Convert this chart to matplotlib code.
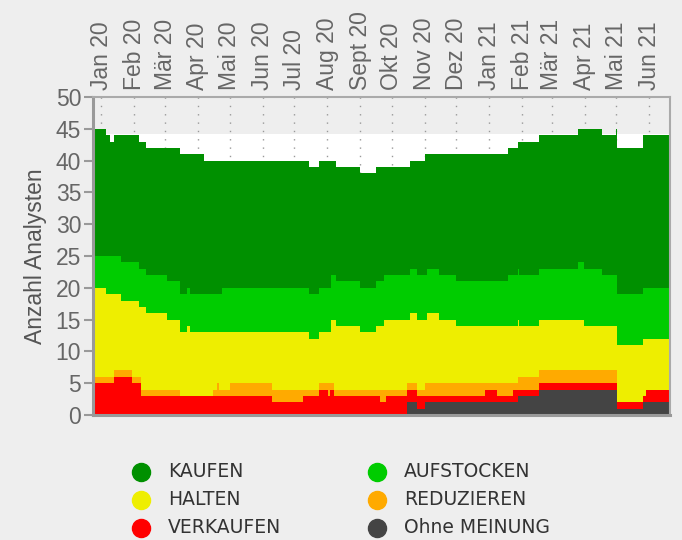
import matplotlib
matplotlib.use("Agg")
import matplotlib.pyplot as plt
import numpy as np
from matplotlib.lines import Line2D

plt.rcParams['font.family'] = ['Liberation Sans', 'DejaVu Sans']

# ---------------- data ----------------
change_dates = [
    "2019-12-24", "2020-01-05", "2020-01-09", "2020-01-13", "2020-01-19", "2020-01-30",
    "2020-02-05", "2020-02-07", "2020-02-12", "2020-03-03", "2020-03-15", "2020-03-22",
    "2020-03-25", "2020-04-07", "2020-04-15", "2020-04-19", "2020-04-21", "2020-04-24",
    "2020-05-01", "2020-06-10", "2020-07-09", "2020-07-15", "2020-07-24", "2020-08-02",
    "2020-08-04", "2020-08-05", "2020-08-07", "2020-08-09", "2020-09-01", "2020-09-16",
    "2020-09-20", "2020-09-24", "2020-09-26", "2020-10-15", "2020-10-18", "2020-10-25",
    "2020-11-01", "2020-11-03", "2020-11-15", "2020-12-01", "2020-12-28", "2021-01-08",
    "2021-01-19", "2021-01-23", "2021-01-28", "2021-01-29", "2021-02-17", "2021-03-26",
    "2021-03-31", "2021-04-17", "2021-05-01", "2021-05-02", "2021-05-26", "2021-05-29",
]
end_date = "2021-06-21"

ohne_meinung = [0, 0, 0, 0, 0, 0, 0, 0, 0, 0, 0, 0, 0, 0, 0, 0, 0, 0, 0, 0, 0, 0, 0, 0,
                0, 0, 0, 0, 0, 0, 0, 0, 0, 2, 2, 1, 2, 2, 2, 2, 2, 2, 2, 2, 3, 3, 4, 4,
                4, 4, 4, 1, 2, 2]
verkaufen = [5, 5, 5, 6, 6, 5, 5, 3, 3, 3, 3, 3, 3, 3, 3, 3, 3, 3, 3, 2, 3, 3, 4, 3,
             4, 4, 3, 3, 3, 3, 2, 2, 3, 2, 2, 2, 1, 1, 1, 1, 2, 1, 1, 2, 1, 1, 1, 1,
             1, 1, 1, 1, 1, 2]
reduzieren = [1, 1, 1, 1, 1, 1, 1, 1, 1, 1, 0, 0, 0, 0, 1, 2, 1, 1, 2, 2, 1, 1, 1, 2,
              1, 1, 1, 1, 1, 1, 2, 2, 1, 1, 1, 1, 2, 2, 2, 2, 1, 2, 2, 1, 2, 2, 2, 2,
              2, 2, 2, 0, 0, 0]
halten = [14, 13, 13, 12, 11, 12, 11, 13, 12, 11, 10, 11, 10, 10, 9, 8, 9, 9, 8, 9, 9, 8, 8, 8,
          8, 10, 11, 10, 9, 10, 10, 11, 11, 10, 11, 11, 10, 11, 10, 9, 9, 9, 9, 9, 9, 8, 8, 8,
          7, 7, 7, 9, 9, 8]
aufstocken = [5, 6, 6, 6, 6, 6, 6, 6, 6, 6, 6, 6, 6, 6, 6, 6, 6, 7, 7, 7, 7, 7, 7, 7,
              7, 7, 7, 7, 7, 7, 7, 7, 7, 7, 7, 7, 7, 7, 7, 7, 7, 7, 8, 8, 8, 8, 8, 9,
              9, 8, 8, 8, 8, 8]
kaufen = [20, 19, 18, 19, 20, 20, 20, 20, 20, 21, 22, 21, 22, 21, 21, 21, 21, 20, 20, 20, 20, 20, 20, 20,
          20, 18, 18, 18, 18, 18, 18, 17, 17, 17, 17, 18, 19, 18, 19, 20, 20, 20, 20, 20, 20, 21, 21, 21,
          22, 22, 23, 23, 24, 24]

series_names = ["Ohne MEINUNG", "VERKAUFEN", "REDUZIEREN", "HALTEN", "AUFSTOCKEN", "KAUFEN"]
series_colors = ["#444444", "#ff0000", "#ffaa00", "#eeee00", "#00cc00", "#009000"]

month_ticks = ["2020-01-01", "2020-02-01", "2020-03-01", "2020-04-01", "2020-05-01", "2020-06-01",
               "2020-07-01", "2020-08-01", "2020-09-01", "2020-10-01", "2020-11-01", "2020-12-01",
               "2021-01-01", "2021-02-01", "2021-03-01", "2021-04-01", "2021-05-01", "2021-06-01"]
month_labels = ["Jan 20", "Feb 20", "Mär 20", "Apr 20", "Mai 20", "Jun 20", "Jul 20", "Aug 20",
                "Sept 20", "Okt 20", "Nov 20", "Dez 20", "Jan 21", "Feb 21", "Mär 21", "Apr 21",
                "Mai 21", "Jun 21"]

# ---------------- figure ----------------
W, H = 682, 540
fig = plt.figure(figsize=(W / 100, H / 100), dpi=100, facecolor="#eeeeee")
ax = fig.add_axes([93 / W, 1 - 415 / H, (670 - 93) / W, (415 - 97) / H])
ax.set_facecolor("#eeeeee")

x = np.array(change_dates + [end_date], dtype="datetime64[D]").astype("datetime64[ms]").astype(object)
layers = [ohne_meinung, verkaufen, reduzieren, halten, aufstocken, kaufen]
base = np.zeros(len(change_dates) + 1)
for vals, col in zip(layers, series_colors):
    v = np.array(list(vals) + [vals[-1]], dtype=float)
    top = base + v
    ax.fill_between(x, base, top, step="post", facecolor=col, edgecolor="none",
                    linewidth=0, zorder=2)
    base = top

# white band behind the data
ax.axhspan(0, 44.25, facecolor="white", edgecolor="none", zorder=0.2)

xmin = np.datetime64("2019-12-24").astype("datetime64[ms]").astype(object)
xmax = np.datetime64("2021-06-20T14:00").astype("datetime64[ms]").astype(object)
ax.set_xlim(xmin, xmax)
ax.set_ylim(0, 50)
ax.set_yticks(np.arange(0, 51, 5))

mt = np.array(month_ticks, dtype="datetime64[D]").astype("datetime64[ms]").astype(object)
ax.xaxis.tick_top()
ax.set_xticks(mt)
ax.set_xticklabels(month_labels, rotation=90)
ax.tick_params(axis="x", length=0, pad=5, labelsize=16.5, labelcolor="#666666")
ax.tick_params(axis="y", direction="out", length=6.5, width=1.5, color="#999999",
               pad=2, labelsize=16.5, labelcolor="#666666")

ax.grid(axis="x", color="#999999", linestyle=(0, (1, 5)), linewidth=1.0, zorder=1)
ax.set_axisbelow(True)

for s in ["left", "bottom"]:
    ax.spines[s].set_color("#999999")
    ax.spines[s].set_linewidth(2.2)
for s in ["top", "right"]:
    ax.spines[s].set_color("#aaaaaa")
    ax.spines[s].set_linewidth(1.5)

ax.set_ylabel("Anzahl Analysten", fontsize=16.5, color="#555555", labelpad=6)

# ---------------- legend ----------------
legend_order = [("KAUFEN", "#009000", 141, 168, 471.5),
                ("HALTEN", "#eeee00", 141, 168, 499.5),
                ("VERKAUFEN", "#ff0000", 141, 168, 527.5),
                ("AUFSTOCKEN", "#00cc00", 377, 404, 471.5),
                ("REDUZIEREN", "#ffaa00", 377, 404, 499.5),
                ("Ohne MEINUNG", "#444444", 377, 404, 527.5)]
for label, col, cx, tx, cy in legend_order:
    fig.add_artist(Line2D([cx / W], [1 - cy / H], marker="o", markersize=13,
                          markerfacecolor=col, markeredgecolor=col, linestyle="none",
                          transform=fig.transFigure))
    fig.text(tx / W, 1 - cy / H, label, fontsize=13.5, color="#333333",
             family=["DejaVu Sans"], va="center", ha="left")

fig.savefig("out.png", dpi=100, facecolor=fig.get_facecolor())
